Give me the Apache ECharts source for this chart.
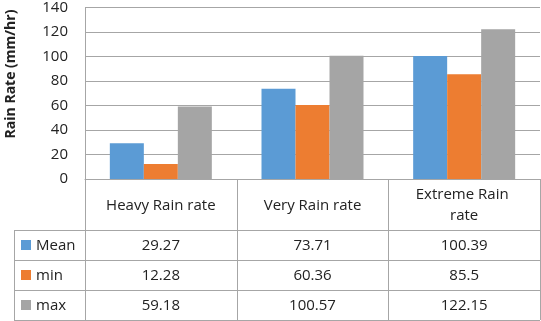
<!DOCTYPE html>
<html><head><meta charset="utf-8">
<script src="https://cdn.jsdelivr.net/npm/echarts@6/dist/echarts.min.js"></script>
<style>html,body{margin:0;padding:0;background:#fff}#c{width:541px;height:321px}</style>
</head><body><div id="c"></div>
<script>
const categories = ['Heavy Rain rate', 'Very Rain rate', 'Extreme Rain rate'];
const seriesNames = ['Mean', 'min', 'max'];
const meanValues = [29.27, 73.71, 100.39];
const minValues = [12.28, 60.36, 85.5];
const maxValues = [59.18, 100.57, 122.15];
const yMin = 0, yMax = 140, yInterval = 20;
const yTitle = 'Rain Rate (mm/hr)';

const colors = ['#5B9BD5', '#ED7D31', '#A5A5A5'];
const allValues = [meanValues, minValues, maxValues];
const FONT = 'Open Sans';
const lineColor = '#a6a6a6';

const chart = echarts.init(document.getElementById('c'), null, {renderer: 'canvas'});
chart.setOption({
  animation: false,
  textStyle: {fontFamily: FONT},
  grid: {left: 85, right: 1, top: 6, bottom: 142, containLabel: false},
  xAxis: {
    type: 'category', data: categories,
    axisLine: {show: true, lineStyle: {color: lineColor}},
    axisTick: {show: false}, axisLabel: {show: false}
  },
  yAxis: {
    type: 'value', min: yMin, max: yMax, interval: yInterval,
    axisLine: {show: true, lineStyle: {color: lineColor}},
    axisTick: {show: false},
    axisLabel: {fontSize: 15, color: '#222', fontFamily: FONT, margin: 17},
    splitLine: {lineStyle: {color: lineColor}}
  },
  series: seriesNames.map((n, i) => ({
    name: n, type: 'bar', data: allValues[i], barWidth: 34, barGap: '0%',
    itemStyle: {color: colors[i]}
  }))
});

function drawTable() {
  const c0 = chart.convertToPixel({xAxisIndex: 0}, 0);
  const c1 = chart.convertToPixel({xAxisIndex: 0}, 1);
  const step = c1 - c0;
  const left = c0 - step / 2;
  const right = left + step * categories.length;
  const top = chart.convertToPixel({yAxisIndex: 0}, 0);
  const headerH = 51, rowH = 30;
  const legendLeft = 14;
  const g = [];
  const line = (x1, y1, x2, y2) => g.push({type: 'line', shape: {x1, y1, x2, y2}, style: {stroke: lineColor, lineWidth: 1}, z: 10});
  const bottom = top + headerH + rowH * seriesNames.length;
  for (let i = 0; i <= categories.length; i++) {
    const x = Math.round(left + i * step) + 0.5;
    line(x, top, x, bottom);
  }
  line(legendLeft + 0.5, top + headerH, legendLeft + 0.5, bottom);
  for (let r = 0; r <= seriesNames.length; r++) {
    const y = Math.round(top + headerH + r * rowH) + 0.5;
    line(legendLeft, y, right, y);
  }
  categories.forEach((cat, i) => {
    g.push({type: 'text', x: left + (i + 0.5) * step, y: top + headerH / 2 + 1,
      style: {text: cat, fontSize: 15, fontFamily: FONT, fill: '#222', align: 'center', verticalAlign: 'middle',
        width: 124, overflow: 'break', lineHeight: 21}, z: 10});
  });
  seriesNames.forEach((n, r) => {
    const cy = top + headerH + (r + 0.5) * rowH + 1;
    g.push({type: 'rect', shape: {x: 21, y: Math.round(cy - 6), width: 10, height: 10}, style: {fill: colors[r]}, z: 10});
    g.push({type: 'text', x: 36, y: cy, style: {text: n, fontSize: 15, fontFamily: FONT, fill: '#222', align: 'left', verticalAlign: 'middle'}, z: 10});
    allValues[r].forEach((v, i) => {
      g.push({type: 'text', x: left + (i + 0.5) * step, y: cy,
        style: {text: String(v), fontSize: 15, fontFamily: FONT, fill: '#222', align: 'center', verticalAlign: 'middle'}, z: 10});
    });
  });
  g.push({type: 'text', x: 11, y: 74, rotation: Math.PI / 2,
    style: {text: yTitle, fontSize: 14, fontWeight: 'bold', fontFamily: FONT, fill: '#222', align: 'center', verticalAlign: 'middle'}, z: 10});
  chart.setOption({graphic: g});
}
drawTable();
</script></body></html>
